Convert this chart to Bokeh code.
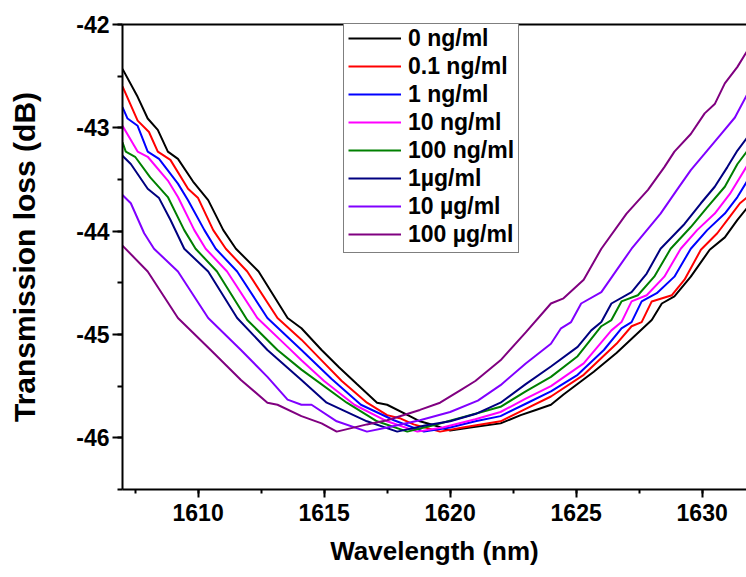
from bokeh.plotting import figure
from bokeh.models import Range1d, SingleIntervalTicker, LinearAxis, FixedTicker, PrintfTickFormatter
from bokeh.embed import file_html
from bokeh.resources import INLINE

# ---- data ----
wl_0 = [1607.0, 1607.6, 1608.0, 1608.4, 1608.8, 1609.2, 1609.8, 1610.4, 1611.0, 1611.5, 1612.4, 1613.55,
        1614.1, 1614.9, 1615.6, 1616.3, 1617.1, 1617.5, 1618.4, 1618.8, 1619.4, 1620.0, 1620.8, 1622.0,
        1622.8, 1623.4, 1624.0, 1624.5, 1625.7, 1626.6, 1627.3, 1628.0, 1628.4, 1628.9, 1629.55, 1630.3,
        1630.9, 1631.4, 1631.8]
tl_0 = [-42.43, -42.70, -42.91, -43.02, -43.23, -43.30, -43.52, -43.70, -43.99, -44.17, -44.39, -44.84,
        -44.94, -45.15, -45.32, -45.48, -45.66, -45.68, -45.79, -45.84, -45.88, -45.93, -45.90, -45.86,
        -45.78, -45.73, -45.68, -45.58, -45.36, -45.18, -45.02, -44.86, -44.70, -44.63, -44.44, -44.18,
        -44.06, -43.89, -43.77]

wl_01 = [1607.0, 1607.6, 1608.05, 1608.4, 1608.9, 1609.6, 1610.0, 1610.6, 1611.1, 1611.95, 1613.15, 1614.1,
         1614.9, 1615.7, 1616.7, 1617.5, 1618.0, 1618.55, 1619.6, 1620.5, 1622.0, 1623.0, 1624.0, 1625.3,
         1626.6, 1627.2, 1627.6, 1628.0, 1628.8, 1629.3, 1629.95, 1630.6, 1631.1, 1631.5, 1631.8]
tl_01 = [-42.60, -42.93, -43.04, -43.23, -43.31, -43.59, -43.68, -43.99, -44.17, -44.39, -44.84, -45.05,
         -45.25, -45.45, -45.66, -45.78, -45.81, -45.87, -45.94, -45.90, -45.84, -45.72, -45.60, -45.39,
         -45.09, -44.92, -44.88, -44.68, -44.62, -44.47, -44.18, -44.02, -43.86, -43.73, -43.67]

wl_1 = [1607.0, 1607.2, 1607.6, 1608.0, 1608.45, 1609.2, 1609.6, 1610.25, 1610.7, 1611.55, 1612.75, 1614.1,
        1615.3, 1616.46, 1617.77, 1618.96, 1620.0, 1621.0, 1622.0, 1623.0, 1624.0, 1625.06, 1626.1, 1626.8,
        1627.2, 1627.6, 1628.2, 1628.9, 1629.55, 1630.2, 1630.9, 1631.4, 1631.8]
tl_1 = [-42.80, -42.91, -42.98, -43.23, -43.30, -43.54, -43.70, -43.99, -44.17, -44.39, -44.84, -45.15,
        -45.43, -45.68, -45.83, -45.94, -45.90, -45.84, -45.79, -45.67, -45.55, -45.39, -45.15, -44.94,
        -44.88, -44.68, -44.60, -44.44, -44.17, -43.99, -43.83, -43.67, -43.51]

wl_10 = [1607.0, 1607.6, 1608.0, 1608.8, 1609.2, 1609.85, 1610.3, 1611.15, 1612.35, 1613.55, 1614.1, 1615.0,
         1616.2, 1617.5, 1618.7, 1619.7, 1621.0, 1622.0, 1623.0, 1624.0, 1625.3, 1626.4, 1626.8, 1627.2,
         1627.8, 1628.5, 1629.15, 1629.8, 1630.5, 1631.1, 1631.8]
tl_10 = [-42.98, -43.23, -43.28, -43.51, -43.67, -43.99, -44.17, -44.39, -44.84, -45.12, -45.25, -45.45,
         -45.68, -45.84, -45.94, -45.90, -45.82, -45.75, -45.62, -45.50, -45.28, -44.96, -44.88, -44.68,
         -44.62, -44.44, -44.17, -43.99, -43.83, -43.64, -43.36]

wl_100 = [1607.0, 1607.13, 1607.5, 1608.1, 1608.8, 1609.45, 1609.9, 1610.75, 1611.95, 1613.15, 1614.1, 1615.9,
          1617.1, 1618.3, 1619.3, 1620.5, 1622.0, 1623.0, 1624.0, 1625.06, 1626.0, 1626.4, 1626.8, 1627.45,
          1628.1, 1628.75, 1629.55, 1630.2, 1630.9, 1631.4, 1631.8]
tl_100 = [-43.14, -43.23, -43.28, -43.48, -43.67, -43.99, -44.17, -44.39, -44.86, -45.15, -45.34, -45.66,
          -45.84, -45.94, -45.88, -45.80, -45.70, -45.55, -45.41, -45.21, -44.92, -44.86, -44.68, -44.62,
          -44.44, -44.17, -43.96, -43.77, -43.57, -43.35, -43.22]

wl_1u = [1607.0, 1607.33, 1608.0, 1608.45, 1608.9, 1609.45, 1610.4, 1611.55, 1612.75, 1614.1, 1615.1, 1616.7,
         1617.9, 1619.0, 1620.0, 1621.0, 1622.0, 1623.0, 1624.0, 1625.06, 1625.6, 1626.0, 1626.4, 1627.2,
         1627.8, 1628.35, 1629.3, 1629.95, 1630.5, 1631.0, 1631.4, 1631.8]
tl_1u = [-43.27, -43.35, -43.59, -43.68, -43.89, -44.17, -44.39, -44.84, -45.15, -45.44, -45.66, -45.84,
         -45.94, -45.88, -45.84, -45.77, -45.66, -45.48, -45.31, -45.12, -44.96, -44.88, -44.70, -44.59,
         -44.41, -44.17, -43.93, -43.73, -43.57, -43.38, -43.22, -43.09]

wl_10u = [1607.0, 1607.33, 1607.86, 1608.25, 1609.2, 1610.4, 1611.7, 1612.75, 1613.55, 1614.1, 1614.5, 1615.5,
          1616.7, 1617.5, 1618.8, 1620.0, 1621.1, 1622.0, 1623.0, 1624.0, 1624.4, 1624.8, 1625.2, 1626.0,
          1626.6, 1627.2, 1628.35, 1629.0, 1629.55, 1630.1, 1630.75, 1631.3, 1631.8]
tl_10u = [-43.65, -43.73, -44.02, -44.17, -44.39, -44.84, -45.15, -45.41, -45.63, -45.68, -45.68, -45.84,
          -45.94, -45.90, -45.83, -45.75, -45.64, -45.49, -45.28, -45.09, -44.94, -44.88, -44.70, -44.59,
          -44.38, -44.17, -43.83, -43.60, -43.41, -43.25, -43.06, -42.90, -42.67]

wl_100u = [1607.0, 1608.0, 1609.2, 1610.5, 1611.7, 1612.75, 1613.15, 1614.1, 1614.9, 1615.5, 1616.7, 1617.5,
           1618.8, 1619.6, 1620.4, 1621.0, 1622.0, 1623.0, 1624.0, 1624.5, 1625.3, 1626.0, 1627.0, 1627.85,
           1628.5, 1628.9, 1629.55, 1630.1, 1630.5, 1630.9, 1631.4, 1631.8]
tl_100u = [-44.14, -44.39, -44.84, -45.15, -45.44, -45.66, -45.68, -45.79, -45.86, -45.94, -45.87, -45.83,
           -45.73, -45.66, -45.54, -45.45, -45.25, -44.98, -44.70, -44.65, -44.47, -44.17, -43.83, -43.60,
           -43.38, -43.23, -43.06, -42.86, -42.77, -42.57, -42.41, -42.25]

labels = ["0 ng/ml", "0.1 ng/ml", "1 ng/ml", "10 ng/ml", "100 ng/ml", "1\u00b5g/ml", "10 \u00b5g/ml", "100 \u00b5g/ml"]
colors = ["#000000", "#ff0000", "#0000ff", "#ff00ff", "#008000", "#000080", "#8000ff", "#800080"]
series = [(wl_0, tl_0), (wl_01, tl_01), (wl_1, tl_1), (wl_10, tl_10), (wl_100, tl_100),
          (wl_1u, tl_1u), (wl_10u, tl_10u), (wl_100u, tl_100u)]

x_ticks_interval = 5
y_ticks_interval = 1

FONT = "Liberation Sans"

p = figure(width=746, height=577, output_backend="svg", toolbar_location=None,
           x_range=Range1d(1607.0, 1631.76), y_range=Range1d(-46.5, -42.0),
           min_border_left=122, min_border_right=0, min_border_top=24, min_border_bottom=88)
p.background_fill_color = "white"
p.border_fill_color = "white"
p.outline_line_color = None
p.grid.visible = False

for (wl, tl), lab, col in zip(series, labels, colors):
    p.line(wl, tl, line_color=col, line_width=2, legend_label=lab)

xa = p.xaxis[0]
xa.ticker = SingleIntervalTicker(interval=x_ticks_interval, num_minor_ticks=2)
xa.formatter = PrintfTickFormatter(format="%d")
ya = p.yaxis[0]
ya.ticker = SingleIntervalTicker(interval=y_ticks_interval, num_minor_ticks=2)
ya.formatter = PrintfTickFormatter(format="%d")

for ax in (xa, ya):
    ax.axis_line_width = 2
    ax.axis_line_color = "black"
    ax.major_tick_line_width = 2
    ax.minor_tick_line_width = 2
    ax.major_tick_in = 0
    ax.minor_tick_in = 0
    ax.major_label_text_font = FONT
    ax.major_label_text_font_style = "bold"
    ax.major_label_text_font_size = "23px"
    ax.major_label_text_color = "black"
    ax.axis_label_text_font = FONT
    ax.axis_label_text_font_style = "bold"
    ax.axis_label_text_color = "black"

xa.axis_label = "Wavelength (nm)"
xa.axis_label_text_font_size = "26px"
xa.major_tick_out = 8
xa.minor_tick_out = 4
xa.major_label_standoff = 6
xa.axis_label_standoff = 12

ya.axis_label = "Transmission loss (dB)"
ya.axis_label_text_font_size = "30px"
ya.major_tick_out = 10
ya.minor_tick_out = 5
ya.major_label_standoff = 3
ya.axis_label_standoff = 32

top = LinearAxis(ticker=FixedTicker(ticks=[]), major_label_text_font_size="0px",
                 major_tick_out=0, minor_tick_out=0, major_label_standoff=0,
                 axis_line_width=2, axis_line_color="black")
p.add_layout(top, "above")

lg = p.legend[0]
lg.location = (221, 236)
lg.label_text_font = FONT
lg.label_text_font_style = "bold"
lg.label_text_font_size = "23px"
lg.label_text_color = "black"
lg.glyph_width = 53
lg.glyph_height = 28
lg.label_height = 28
lg.label_standoff = 7
lg.spacing = 0
lg.padding = 4
lg.margin = 0
lg.border_line_color = "black"
lg.border_line_width = 1
lg.background_fill_alpha = 1.0

open("out.html", "w").write(file_html(p, INLINE))
